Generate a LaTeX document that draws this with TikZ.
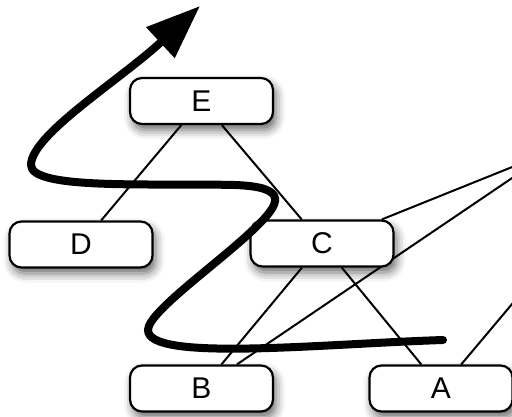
\documentclass[tikz,border=0pt]{standalone}
\usepackage{fontspec}
\setmainfont{Liberation Sans}
\usetikzlibrary{arrows.meta,shadows.blur,backgrounds}
\begin{document}
\begin{tikzpicture}[x=1pt,y=-1pt,
  box/.style={draw, line width=2.2pt, fill=white, rounded corners=12pt,
    minimum width=143pt, minimum height=46pt, inner sep=0pt,
    font=\fontsize{30}{36}\selectfont,
    blur shadow={shadow xshift=3pt, shadow yshift=-6pt,
      shadow blur radius=9pt, shadow opacity=60}},
  link/.style={line width=2pt},
  sweep/.style={line width=8pt, line cap=round,
    -{Triangle[length=54pt,width=40pt]}}]
\useasboundingbox (0,0) rectangle (512,417);

% tree nodes
\node[box] (E) at (201.5,101) {E};
\node[box] (D) at (81,244.5) {D};
\node[box] (C) at (322,243.5) {C};
\node[box] (B) at (201.5,388.5) {B};
\node[box] (A) at (441,388.5) {A};

% neighbours lying beyond the right margin
\coordinate (F) at (552,151);
\coordinate (G) at (563,243.5);

% edges, kept behind the boxes
\begin{scope}[on background layer]
  \draw[link] (E) -- (D);
  \draw[link] (E) -- (C);
  \draw[link] (C) -- (B);
  \draw[link] (C) -- (A);
  \draw[link] (C) -- (F);
  \draw[link] (B) -- (F);
  \draw[link] (A) -- (G);
\end{scope}

% thick zig-zag sweep ending in an arrow
\draw[sweep] (443,340)
  .. controls (320,344) and (148,362) .. (148,330)
  .. controls (148,312) and (220,262) .. (255,228)
  .. controls (280,204) and (290,187) .. (235,185)
  .. controls (150,183) and (31,190) .. (31,165)
  .. controls (31,135) and (120,80) .. (200,6);
\end{tikzpicture}
\end{document}
